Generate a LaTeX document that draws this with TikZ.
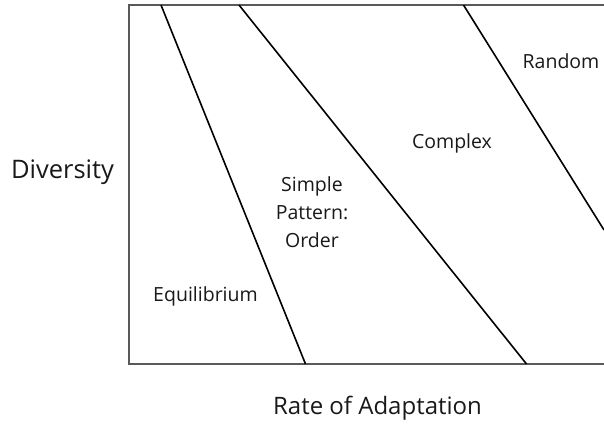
\documentclass[tikz,border=0pt]{standalone}
\usepackage{fontspec}
\setmainfont{Open Sans}
\begin{document}
\begin{tikzpicture}[x=1pt,y=-1pt,
  frame/.style={draw=black!65,line width=1.3pt},
  divider/.style={draw=black,line width=1.6pt},
  axislabel/.style={text=black!90,inner sep=0pt},
  region/.style={font=\fontsize{19.5}{28}\selectfont,text=black!90,inner sep=0pt,align=center}]
\useasboundingbox (0,0) rectangle (604,424);
\coordinate (tl) at (129,5);
\coordinate (bl) at (129,364);
\coordinate (tr) at (604,5);
\coordinate (br) at (604,364);
\draw[frame] (tr) -- (tl) -- (bl) -- (br);
\coordinate (a1) at (161,5);
\coordinate (a2) at (305.5,364);
\coordinate (b1) at (239,5);
\coordinate (b2) at (526.5,364);
\coordinate (c1) at (463.5,5);
\coordinate (c2) at (604,230);
\draw[divider] (a1) -- (a2);
\draw[divider] (b1) -- (b2);
\draw[divider] (c1) -- (c2);
\node[axislabel,font=\fontsize{25.5}{30}\selectfont] (div) at (62.5,172) {Diversity};
\node[axislabel,font=\fontsize{24}{30}\selectfont] (rate) at (377.5,408) {Rate of Adaptation};
\node[region] (eq) at (205.5,296) {Equilibrium};
\node[region] (sp) at (312,212) {Simple\\Pattern:\\Order};
\node[region] (cx) at (452,143) {Complex};
\node[region] (rd) at (561,61) {Random};
\end{tikzpicture}
\end{document}
